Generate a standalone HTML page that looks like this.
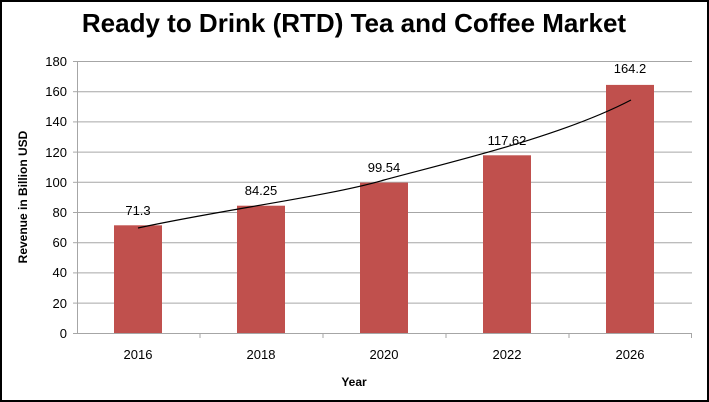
<!DOCTYPE html>
<html><head><style>
html,body{margin:0;padding:0;background:#fff;}
svg{display:block;font-family:"Liberation Sans",sans-serif;}
</style></head><body>
<svg width="709" height="402" viewBox="0 0 709 402">
<rect x="1" y="1" width="707" height="400" fill="#fff" stroke="#000" stroke-width="2"/>
<text x="354" y="32" text-anchor="middle" font-size="26" font-weight="bold" fill="#000">Ready to Drink (RTD) Tea and Coffee Market</text>
<g stroke="#a6a6a6" stroke-width="1">
<line x1="77" x2="692" y1="61.5" y2="61.5"/>
<line x1="77" x2="692" y1="91.7" y2="91.7"/>
<line x1="77" x2="692" y1="121.9" y2="121.9"/>
<line x1="77" x2="692" y1="152.1" y2="152.1"/>
<line x1="77" x2="692" y1="182.3" y2="182.3"/>
<line x1="77" x2="692" y1="212.5" y2="212.5"/>
<line x1="77" x2="692" y1="242.7" y2="242.7"/>
<line x1="77" x2="692" y1="272.9" y2="272.9"/>
<line x1="77" x2="692" y1="303.1" y2="303.1"/>
<line x1="77.5" x2="77.5" y1="61" y2="333"/>
<line x1="77" x2="692" y1="333.5" y2="333.5"/>
<line x1="73" x2="77" y1="61.5" y2="61.5"/><line x1="73" x2="77" y1="91.7" y2="91.7"/><line x1="73" x2="77" y1="121.9" y2="121.9"/><line x1="73" x2="77" y1="152.1" y2="152.1"/><line x1="73" x2="77" y1="182.3" y2="182.3"/><line x1="73" x2="77" y1="212.5" y2="212.5"/><line x1="73" x2="77" y1="242.7" y2="242.7"/><line x1="73" x2="77" y1="272.9" y2="272.9"/><line x1="73" x2="77" y1="303.1" y2="303.1"/><line x1="73" x2="77" y1="333.5" y2="333.5"/>
<line x1="200" x2="200" y1="333" y2="338"/><line x1="323" x2="323" y1="333" y2="338"/><line x1="446" x2="446" y1="333" y2="338"/><line x1="569" x2="569" y1="333" y2="338"/><line x1="691.5" x2="691.5" y1="333" y2="338"/>
</g>
<g font-size="13" fill="#000" text-anchor="end">
<text x="67" y="66">180</text><text x="67" y="96">160</text><text x="67" y="126">140</text><text x="67" y="157">120</text><text x="67" y="187">100</text><text x="67" y="217">80</text><text x="67" y="247">60</text><text x="67" y="277">40</text><text x="67" y="308">20</text><text x="67" y="338">0</text>
</g>
<g fill="#c0504d">
<rect x="114" y="225.3" width="48" height="107.7"/>
<rect x="237" y="205.7" width="48" height="127.3"/>
<rect x="360" y="182.6" width="48" height="150.4"/>
<rect x="483" y="155.3" width="48" height="177.7"/>
<rect x="606" y="84.9" width="48" height="248.1"/>
</g>
<path d="M138,228 C220,210 330,196 384,180 C450,162 560,137 631,100" fill="none" stroke="#000" stroke-width="1.2"/>
<g font-size="13" fill="#000" text-anchor="middle">
<text x="138" y="215">71.3</text><text x="261" y="195">84.25</text><text x="384" y="172">99.54</text><text x="507" y="145">117.62</text><text x="630" y="73">164.2</text>
<text x="138" y="359">2016</text><text x="261" y="359">2018</text><text x="384" y="359">2020</text><text x="507" y="359">2022</text><text x="630" y="359">2026</text>
</g>
<text x="354" y="386" text-anchor="middle" font-size="12" font-weight="bold">Year</text>
<text transform="translate(27,197) rotate(-90)" text-anchor="middle" font-size="12" font-weight="bold">Revenue in  Billion  USD</text>
</svg>
</body></html>
